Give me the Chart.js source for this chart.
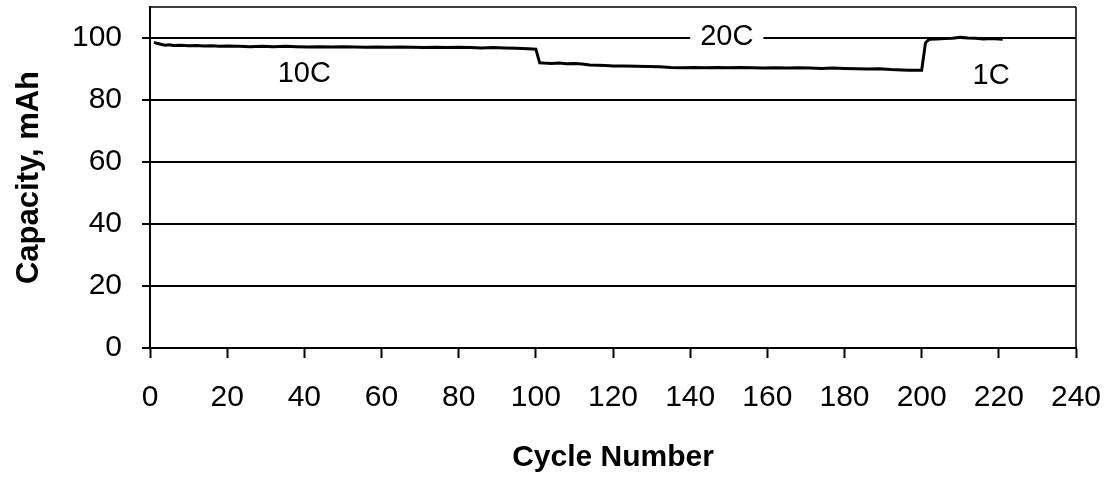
<!DOCTYPE html>
<html>
<head>
<meta charset="utf-8">
<title>Capacity vs Cycle Number</title>
<script src="https://cdn.jsdelivr.net/npm/chart.js@4"></script>
<style>
  html, body { margin: 0; padding: 0; background: #fff; }
  #wrap { width: 1114px; height: 478px; position: relative; }
</style>
</head>
<body>
<div id="wrap"><canvas id="grafico"></canvas></div>
<script>
// Dados
var ciclos10C = [1, 2, 3, 4, 5, 6, 8, 10, 12, 14, 16, 18, 20, 23, 26, 29, 32, 35, 38, 41, 44, 47, 50, 53, 56, 59, 62, 65, 68, 71, 74, 77, 80, 83, 86, 89, 92, 95, 98, 100];
var cap10C = [98.6, 98.2, 97.9, 97.7, 97.8, 97.6, 97.7, 97.5, 97.6, 97.4, 97.5, 97.3, 97.4, 97.3, 97.2, 97.3, 97.2, 97.3, 97.2, 97.1, 97.2, 97.1, 97.2, 97.1, 97.0, 97.1, 97.0, 97.1, 97.0, 96.9, 97.0, 96.9, 97.0, 96.9, 96.8, 96.9, 96.8, 96.7, 96.5, 96.4];

var ciclos20C = [101, 102, 104, 106, 108, 110, 112, 114, 116, 118, 120, 123, 126, 129, 132, 135, 138, 141, 144, 147, 150, 153, 156, 159, 162, 165, 168, 171, 174, 177, 180, 183, 186, 189, 192, 195, 197, 199, 200];
var cap20C = [92.0, 91.9, 91.8, 91.9, 91.7, 91.8, 91.6, 91.3, 91.2, 91.1, 91.0, 91.0, 90.9, 90.8, 90.7, 90.5, 90.4, 90.5, 90.4, 90.5, 90.4, 90.5, 90.4, 90.3, 90.4, 90.3, 90.4, 90.3, 90.2, 90.3, 90.2, 90.1, 90.0, 90.1, 89.8, 89.7, 89.6, 89.6, 89.6];

var ciclos1C = [201, 202, 204, 206, 208, 210, 212, 214, 216, 218, 220, 221];
var cap1C = [98.5, 99.6, 99.7, 99.8, 99.9, 100.2, 100.0, 99.9, 99.7, 99.8, 99.7, 99.6];

var ticksY = [0, 20, 40, 60, 80, 100];
var ticksX = [0, 20, 40, 60, 80, 100, 120, 140, 160, 180, 200, 220, 240];

// Rótulos das taxas (ciclo, capacidade)
var rotulos = [
  { texto: '10C', ciclo: 40, cap: 88.5, fundo: false },
  { texto: '20C', ciclo: 149.5, cap: 100.3, fundo: true },
  { texto: '1C', ciclo: 218, cap: 87.8, fundo: false }
];

var fonte = "'Liberation Sans', Arial, sans-serif";

// Monta os pontos a partir das listas
var pontos = [];
[[ciclos10C, cap10C], [ciclos20C, cap20C], [ciclos1C, cap1C]].forEach(function (par) {
  par[0].forEach(function (c, i) {
    pontos.push({ x: c, y: par[1][i] });
  });
});

// Moldura (topo e direita) + rótulos 10C / 20C / 1C
var pluginExtras = {
  id: 'extras',
  afterDatasetsDraw: function (chart) {
    var ctx = chart.ctx;
    var area = chart.chartArea;
    var sx = chart.scales.x, sy = chart.scales.y;

    ctx.save();
    ctx.strokeStyle = '#000';
    ctx.lineWidth = 1.5;
    ctx.beginPath();
    ctx.moveTo(area.left, area.top);
    ctx.lineTo(area.right, area.top);
    ctx.moveTo(area.right, area.top);
    ctx.lineTo(area.right, area.bottom);
    ctx.stroke();

    ctx.font = '29px ' + fonte;
    ctx.textAlign = 'center';
    ctx.textBaseline = 'middle';
    rotulos.forEach(function (r) {
      var px = sx.getPixelForValue(r.ciclo);
      var py = sy.getPixelForValue(r.cap);
      if (r.fundo) {
        var w = ctx.measureText(r.texto).width;
        ctx.fillStyle = '#fff';
        ctx.fillRect(px - w / 2 - 10, py - 14, w + 20, 26);
      }
      ctx.fillStyle = '#000';
      ctx.fillText(r.texto, px, py);
    });
    ctx.restore();
  }
};

var ctx = document.getElementById('grafico').getContext('2d');
new Chart(ctx, {
  type: 'line',
  data: {
    datasets: [{
      label: 'Capacidade',
      data: pontos,
      borderColor: '#000',
      borderWidth: 3,
      pointRadius: 0,
      tension: 0,
      fill: false
    }]
  },
  options: {
    responsive: true,
    maintainAspectRatio: false,
    animation: false,
    layout: { padding: { left: 0, top: 7, right: 38, bottom: 2 } },
    plugins: {
      legend: { display: false },
      tooltip: { enabled: false }
    },
    scales: {
      x: {
        type: 'linear',
        min: 0,
        max: 240,
        afterBuildTicks: function (scale) {
          scale.ticks = ticksX.map(function (v) { return { value: v }; });
        },
        afterFit: function (scale) {
          scale.height = 128;
          scale.paddingLeft = 0;
          scale.paddingRight = 0;
        },
        grid: {
          drawOnChartArea: false,
          drawTicks: true,
          tickLength: 10,
          tickColor: '#000',
          tickWidth: 2
        },
        border: { display: true, color: '#000', width: 2 },
        ticks: {
          color: '#000',
          padding: 22,
          maxRotation: 0,
          font: { family: fonte, size: 30 }
        },
        title: {
          display: true,
          text: 'Cycle Number',
          color: '#000',
          padding: { top: 0, bottom: 0 },
          font: { family: fonte, size: 30, weight: 'bold' }
        }
      },
      y: {
        type: 'linear',
        min: 0,
        max: 110,
        afterBuildTicks: function (scale) {
          scale.ticks = ticksY.map(function (v) { return { value: v }; });
        },
        afterFit: function (scale) {
          scale.width = 150;
          scale.paddingTop = 0;
          scale.paddingBottom = 0;
        },
        grid: {
          color: '#000',
          lineWidth: 2,
          drawTicks: true,
          tickLength: 8,
          tickColor: '#000',
          tickWidth: 2
        },
        border: { display: true, color: '#000', width: 2 },
        ticks: {
          color: '#000',
          padding: 20,
          font: { family: fonte, size: 30 }
        },
        title: {
          display: true,
          text: 'Capacity, mAh',
          color: '#000',
          padding: { top: 11, bottom: 0 },
          font: { family: fonte, size: 31, weight: 'bold' }
        }
      }
    }
  },
  plugins: [pluginExtras]
});
</script>
</body>
</html>
